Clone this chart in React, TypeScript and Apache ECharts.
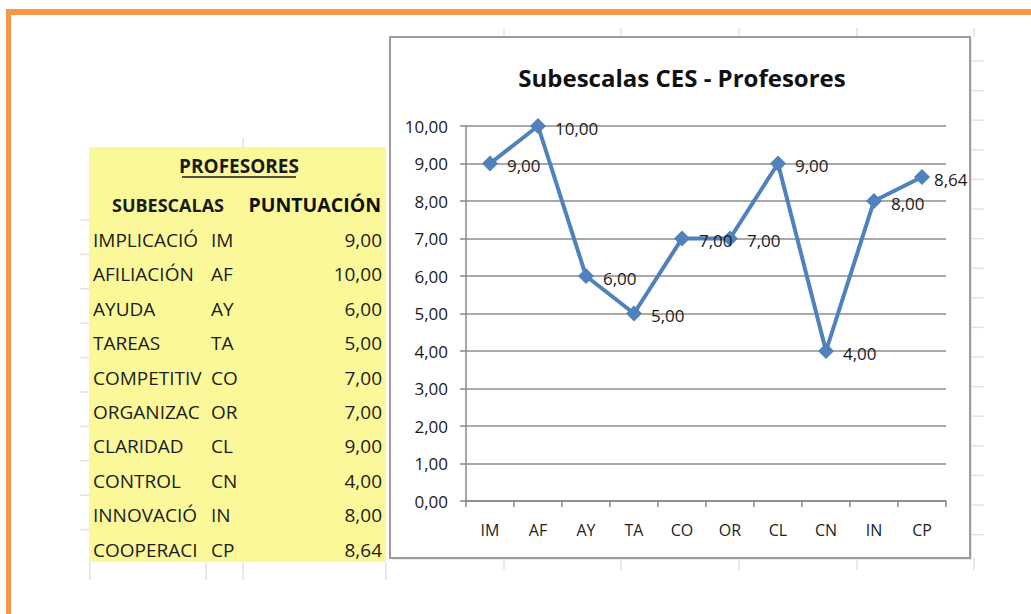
import React, { useEffect, useRef } from "react";
import * as echarts from "echarts";

const categories = ["IM", "AF", "AY", "TA", "CO", "OR", "CL", "CN", "IN", "CP"];
const scores = [9, 10, 6, 5, 7, 7, 9, 4, 8, 8.64];
const subscaleNames = [
  "IMPLICACIÓN",
  "AFILIACIÓN",
  "AYUDA",
  "TAREAS",
  "COMPETITIVIDAD",
  "ORGANIZACIÓN",
  "CLARIDAD",
  "CONTROL",
  "INNOVACIÓN",
  "COOPERACIÓN",
];
const yTicks = [0, 10, 1];

const FONT = "'Open Sans', sans-serif";
const fmt = (v: number) => v.toFixed(2).replace(".", ",");

export default function App() {
  const ref = useRef<HTMLDivElement>(null);
  useEffect(() => {
    if (!ref.current) return;
    const chart = echarts.init(ref.current, undefined, { renderer: "svg" });

    const rowY0 = 240;
    const rowStep = 34.4;
    const tableTexts: any[] = [];
    subscaleNames.forEach((n, i) => {
      const y = rowY0 + i * rowStep;
      tableTexts.push({
        type: "text",
        z: -5,
        style: {
          x: 93,
          y,
          text: n,
          width: 116,
          overflow: "truncate",
          ellipsis: "",
          fontSize: 19,
          fontFamily: FONT,
          fill: "#1c1c1c",
          verticalAlign: "middle",
        },
      });
      tableTexts.push({
        type: "text",
        z: -5,
        style: {
          x: 211,
          y,
          text: categories[i],
          fontSize: 19,
          fontFamily: FONT,
          fill: "#1c1c1c",
          verticalAlign: "middle",
        },
      });
      tableTexts.push({
        type: "text",
        z: -5,
        style: {
          x: 382,
          y,
          text: fmt(scores[i]),
          fontSize: 19,
          fontFamily: FONT,
          fill: "#1c1c1c",
          align: "right",
          verticalAlign: "middle",
        },
      });
    });

    const faint = "#e2e2e2";
    const sheetLines: any[] = [];
    [90, 206, 243, 386].forEach((x) =>
      sheetLines.push({ type: "line", z: -8, shape: { x1: x, y1: 562, x2: x, y2: 580 }, style: { stroke: faint, lineWidth: 1.5 } })
    );
    [504, 621, 739, 857, 974].forEach((x) => {
      sheetLines.push({ type: "line", z: -8, shape: { x1: x, y1: 558, x2: x, y2: 570 }, style: { stroke: faint, lineWidth: 1.5 } });
      sheetLines.push({ type: "line", z: -8, shape: { x1: x, y1: 28, x2: x, y2: 37 }, style: { stroke: faint, lineWidth: 1.5 } });
    });
    [243].forEach((x) =>
      sheetLines.push({ type: "line", z: -8, shape: { x1: x, y1: 138, x2: x, y2: 147 }, style: { stroke: faint, lineWidth: 1.5 } })
    );
    for (let y = 61; y < 560; y += 29.6) {
      sheetLines.push({ type: "line", z: -8, shape: { x1: 972, y1: y, x2: 984, y2: y }, style: { stroke: faint, lineWidth: 1.5 } });
    }
    for (let y = 220; y < 560; y += 34.4) {
      sheetLines.push({ type: "line", z: -8, shape: { x1: 80, y1: y, x2: 89, y2: y }, style: { stroke: faint, lineWidth: 1.5 } });
    }

    chart.setOption({
      animation: false,
      backgroundColor: "#ffffff",
      title: {
        text: "Subescalas CES - Profesores",
        left: 677,
        top: 60,
        textAlign: "center",
        textStyle: { fontFamily: FONT, fontSize: 24, fontWeight: "bold", color: "#111" },
      },
      grid: { left: 466, right: 85, top: 126, bottom: 113 },
      xAxis: {
        type: "category",
        data: categories,
        boundaryGap: true,
        axisLine: { show: true, lineStyle: { color: "#888", width: 1.5 } },
        axisTick: { show: true, alignWithLabel: false, length: 6, lineStyle: { color: "#888", width: 1.5 } },
        axisLabel: { margin: 21, fontSize: 16, fontFamily: FONT, color: "#222" },
        splitLine: { show: false },
      },
      yAxis: {
        type: "value",
        min: yTicks[0],
        max: yTicks[1],
        interval: yTicks[2],
        axisLine: { show: true, lineStyle: { color: "#888", width: 1.5 } },
        axisTick: { show: true, inside: false, length: 6, lineStyle: { color: "#888", width: 1.5 } },
        axisLabel: { margin: 18, fontSize: 17, fontFamily: FONT, color: "#1a1a1a", formatter: (v: number) => fmt(v) },
        splitLine: { show: true, lineStyle: { color: "#8c8c8c", width: 1.5 } },
      },
      series: [
        {
          type: "line",
          data: scores.map((v, i) =>
            i === scores.length - 1 ? { value: v, label: { distance: 4 } } : v
          ),
          symbol: "diamond",
          symbolSize: 16,
          lineStyle: { color: "#4f81bd", width: 4 },
          itemStyle: { color: "#4f81bd" },
          label: {
            show: true,
            position: "right",
            distance: 9,
            offset: [0, 2],
            fontSize: 17,
            fontFamily: FONT,
            color: "#1a1a1a",
            formatter: (p: any) => fmt(p.value),
          },
          z: 3,
        },
      ],
      graphic: {
        elements: [
          ...sheetLines,
          { type: "rect", z: -9, shape: { x: 6, y: 9, width: 1025, height: 6 }, style: { fill: "#f79646" } },
          { type: "rect", z: -9, shape: { x: 6, y: 9, width: 5, height: 605 }, style: { fill: "#f79646" } },
          { type: "rect", z: -7, shape: { x: 89, y: 147, width: 297, height: 415 }, style: { fill: "#fbf89a" } },
          {
            type: "text",
            z: -5,
            style: { x: 239, y: 166, text: "PROFESORES", fontSize: 19, fontWeight: "bold", fontFamily: FONT, fill: "#1a1a1a", align: "center", verticalAlign: "middle" },
          },
          { type: "line", z: -5, shape: { x1: 182, y1: 177, x2: 296, y2: 177 }, style: { stroke: "#1a1a1a", lineWidth: 1.5 } },
          {
            type: "text",
            z: -5,
            style: { x: 168, y: 205, text: "SUBESCALAS", fontSize: 18, fontWeight: "bold", fontFamily: FONT, fill: "#1a1a1a", align: "center", verticalAlign: "middle" },
          },
          {
            type: "text",
            z: -5,
            style: { x: 381, y: 204, text: "PUNTUACIÓN", fontSize: 19.5, fontWeight: "bold", fontFamily: FONT, fill: "#111", align: "right", verticalAlign: "middle" },
          },
          ...tableTexts,
          { type: "rect", z: -6, shape: { x: 392, y: 39, width: 580, height: 521 }, style: { fill: "#e6e6e6" } },
          { type: "rect", z: -6, shape: { x: 390, y: 37, width: 580, height: 521 }, style: { fill: "#ffffff", stroke: "#9c9c9c", lineWidth: 2 } },
        ],
      },
    });
    return () => chart.dispose();
  }, []);
  return <div ref={ref} style={{ position: "fixed", left: 0, top: 0, width: 1031, height: 614 }} />;
}
